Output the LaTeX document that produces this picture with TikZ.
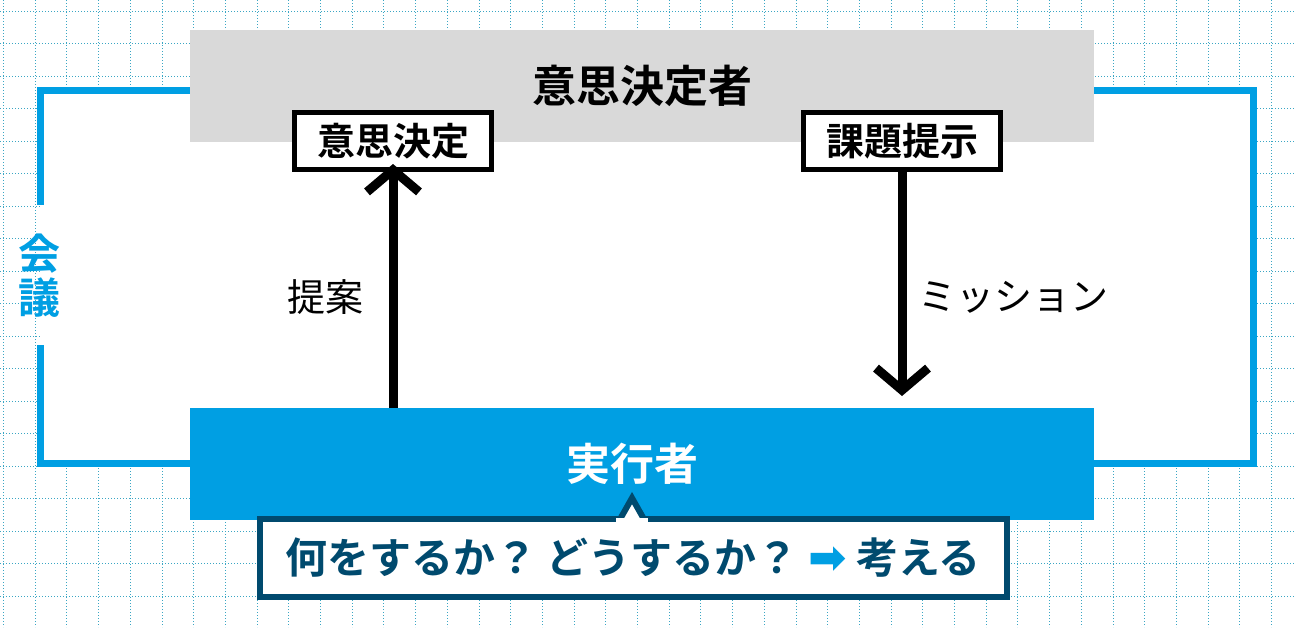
\documentclass[tikz,border=0pt]{standalone}
\usepackage{fontspec}
\newfontfamily\jp{Noto Sans CJK JP}
\newfontfamily\jpb{Noto Sans CJK JP Bold}
\usetikzlibrary{arrows.meta}
\definecolor{cblue}{HTML}{009FE3}
\definecolor{cdark}{HTML}{004A6E}
\definecolor{cgrey}{HTML}{D9D9D9}
\definecolor{cgrid}{HTML}{3AA6C4}
\begin{document}
\begin{tikzpicture}[x=1pt,y=-1pt,
  lbl/.style={draw=black,line width=5pt,fill=white,inner sep=0pt,minimum width=197pt,minimum height=57pt,font=\jpb\fontsize{38}{38}\selectfont},
  big/.style={inner sep=0pt,minimum width=904pt,minimum height=112pt},
  thick arrow/.style={line width=9pt,-{Straight Barb[length=22pt,width=52pt,line width=9pt]}}]
\useasboundingbox (0,0) rectangle (1296,627);
\fill[white] (0,0) rectangle (1296,627);
\foreach \x in {3.5,35.2,...,1296} \draw[cgrid,dotted,line width=1pt] (\x,0) -- (\x,627);
\foreach \y in {11,43.5,...,627} \draw[cgrid,dotted,line width=1pt] (0,\y) -- (1296,\y);
% frame
\fill[white] (40,90) rectangle (1253,463);
\draw[cblue,line width=7pt] (40,205) -- (40,90) -- (1253,90) -- (1253,463) -- (40,463) -- (40,345);
\node[text=cblue,font=\jpb\fontsize{42}{44}\selectfont,align=center] (kaigi) at (40,276) {会\\議};
% boxes
\node[big,fill=cgrey,font=\jpb\fontsize{44}{44}\selectfont] (top) at (642,86) {意思決定者};
\node[big,fill=cblue] (bot) at (642,464) {};
\node[text=white,font=\jpb\fontsize{44}{44}\selectfont] (bottxt) at (632,464) {実行者};
\node[lbl] (kettei) at (393,141) {意思決定};
\node[lbl] (kadai) at (902,141) {課題提示};
\coordinate (upstart) at (393,408);
\coordinate (downend) at (902,396);
\draw[thick arrow] (upstart) -- ([yshift=8pt]kettei.south);
\draw[thick arrow] (kadai.south) -- (downend);
\node[font=\jp\fontsize{38}{38}\selectfont] (teian) at (325,297) {提案};
\node[font=\jp\fontsize{38}{38}\selectfont] (mission) at (1013,297) {ミッション};
% callout
\node[draw=cdark,line width=6pt,fill=white,minimum width=747pt,minimum height=78pt,inner sep=0pt,text=cdark,font=\jpb\fontsize{42}{42}\selectfont] (call) at (633,558) {何をするか？ どうするか？ {\color{cblue}\fontspec{DejaVu Sans}\bfseries\fontsize{46}{46}\selectfont ➡} 考える};
\filldraw[draw=cdark,fill=white,line width=6pt,line join=miter] (619,521) -- (632,498) -- (645,521);
\fill[white] (616,518) rectangle (648,523);
\end{tikzpicture}
\end{document}
